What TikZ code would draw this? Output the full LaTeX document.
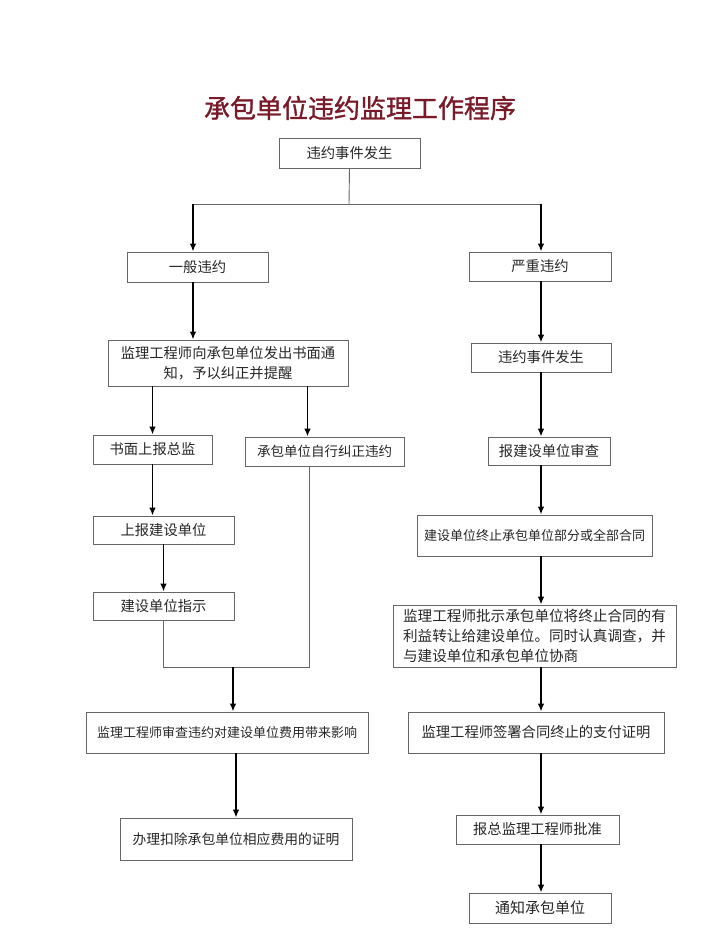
\documentclass[tikz,border=0pt]{standalone}
\usepackage{fontspec}
\setmainfont{Noto Sans CJK SC}
\newfontfamily\titlefont[FakeBold=1.2]{Noto Sans CJK SC}
\usepackage{tikz}
\usepackage{xcolor}
\usetikzlibrary{arrows.meta}
\definecolor{titlered}{RGB}{120,26,40}

\begin{document}
\begin{tikzpicture}[x=1pt,y=-1pt,>={Latex[length=8pt,width=6.5pt]},
                    box/.style={draw=black!60,line width=0.8pt,inner sep=2pt,text=black!85,
                                font=\fontsize{14.3}{20}\selectfont,align=center},
                    narrow/.style={font=\fontsize{#1}{20}\selectfont},
                    line/.style={draw=black!60,line width=0.9pt},
                    arr/.style={->,draw=black,line width=1.8pt}]

  \useasboundingbox (0,0) rectangle (720,936);

  \node[font=\titlefont\fontsize{26}{30}\selectfont,text=titlered] (title) at (360,108) {承包单位违约监理工作程序};

  \node[box,minimum width=141,minimum height=30] (top) at (349.5,153) {违约事件发生};
  \node[box,minimum width=141,minimum height=30] (minor) at (197.5,267) {一般违约};
  \node[box,minimum width=142,minimum height=29] (major) at (540,266.5) {严重违约};
  \node[box,minimum width=240,minimum height=46] (notice) at (228,363) {监理工程师向承包单位发出书面通\\知，予以纠正并提醒};
  \node[box,minimum width=140,minimum height=29] (event) at (541,357.5) {违约事件发生};
  \node[box,minimum width=119,minimum height=29] (chief) at (152.5,449.5) {书面上报总监};
  \node[box,narrow=13.5,minimum width=159,minimum height=29] (fix) at (324.5,451.5) {承包单位自行纠正违约};
  \node[box,minimum width=122,minimum height=28] (check) at (549,451) {报建设单位审查};
  \node[box,minimum width=141,minimum height=28] (owner) at (163.5,530) {上报建设单位};
  \node[box,narrow=13,minimum width=235,minimum height=41] (stop) at (534.5,535.5) {建设单位终止承包单位部分或全部合同};
  \node[box,minimum width=141,minimum height=28] (order) at (163.5,606) {建设单位指示};
  \node[box,narrow=14.6,minimum width=283,minimum height=62,align=left] (transfer) at (534.5,636)
    {监理工程师批示承包单位将终止合同的有\\利益转让给建设单位。同时认真调查，并\\与建设单位和承包单位协商};
  \node[box,narrow=13,minimum width=282,minimum height=41] (cost) at (227,732.5) {监理工程师审查违约对建设单位费用带来影响};
  \node[box,minimum width=256,minimum height=41] (pay) at (536,732.5) {监理工程师签署合同终止的支付证明};
  \node[box,narrow=13.8,minimum width=232,minimum height=42] (deduct) at (236,839) {办理扣除承包单位相应费用的证明};
  \node[box,minimum width=163,minimum height=29] (approve) at (537.5,829.5) {报总监理工程师批准};
  \node[box,narrow=15,minimum width=142,minimum height=30] (notify) at (540,908) {通知承包单位};

  \coordinate (fork) at (349,204);
  \coordinate (lcol) at (193,204);
  \coordinate (rcol) at (541,204);
  \coordinate (join) at (233,667);

  \draw[line] (top.south) -- (fork);
  \draw[line] (lcol) -- (rcol);
  \draw[arr] (lcol) -- (lcol |- minor.north);
  \draw[arr] (rcol) -- (rcol |- major.north);

  \draw[arr] (lcol |- minor.south) -- (lcol |- notice.north);
  \draw[arr] (chief.north |- notice.south) -- (chief.north);
  \draw[arr] ([xshift=-17pt]fix.north |- notice.south) -- ([xshift=-17pt]fix.north);
  \draw[arr] (chief.south) -- (chief.south |- owner.north);
  \draw[arr] (owner.south) -- (order.north);
  \draw[line] (order.south) |- (join);
  \draw[line] ([xshift=-15pt]fix.south) |- (join);
  \draw[arr] (join) -- (join |- cost.north);
  \draw[arr] (deduct.north |- cost.south) -- (deduct.north);

  \draw[arr] (rcol |- major.south) -- (rcol |- event.north);
  \draw[arr] (rcol |- event.south) -- (rcol |- check.north);
  \draw[arr] (rcol |- check.south) -- (rcol |- stop.north);
  \draw[arr] (rcol |- stop.south) -- (rcol |- transfer.north);
  \draw[arr] (rcol |- transfer.south) -- (rcol |- pay.north);
  \draw[arr] (rcol |- pay.south) -- (rcol |- approve.north);
  \draw[arr] (rcol |- approve.south) -- (rcol |- notify.north);
\end{tikzpicture}
\end{document}
